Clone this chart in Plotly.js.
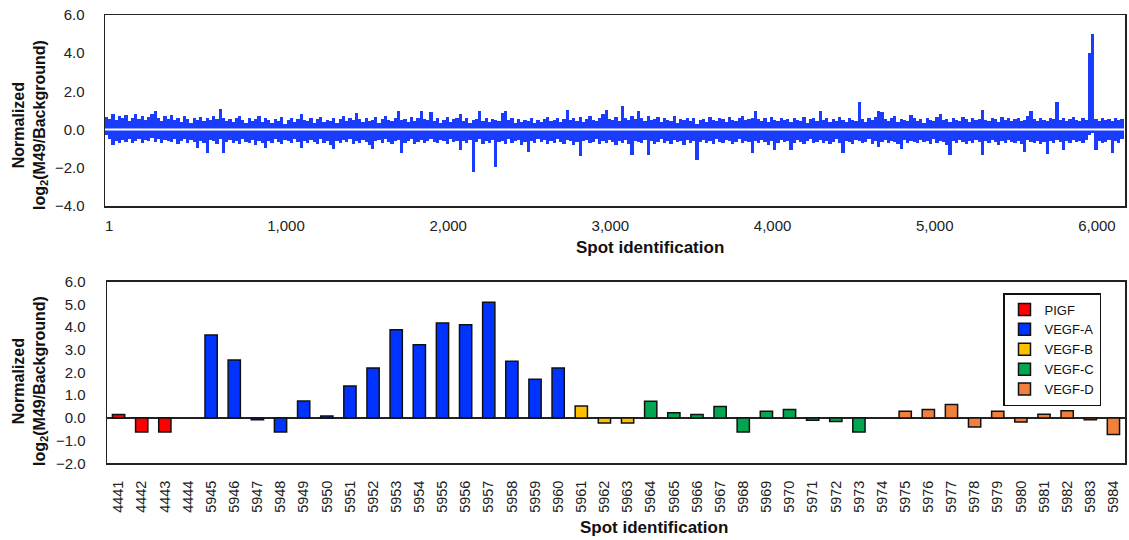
<!DOCTYPE html>
<html>
<head>
<meta charset="utf-8">
<script src="https://cdn.plot.ly/plotly-3.0.1.min.js"></script>
<style>html,body{margin:0;padding:0;background:#fff;}#chart{width:1129px;height:540px;}</style>
</head>
<body>
<div id="chart"></div>
<script>
// ---------- Top panel: all spots, read as binned envelopes (20 spots per bin) ----------
const topBinStart = -116;
const topBinWidth = 20;
const topUp = [
 .65,.55,.8,.5,.7,.6,.75,.45,.6,.8,
 .55,.7,.5,.65,.8,1.0,.6,.45,.7,.55,
 .75,.5,.6,.4,.7,.55,.35,.6,.5,.65,
 .45,.6,.5,.7,.55,1.1,.6,.45,.55,.4,
 .6,.7,.5,.35,.6,.45,.55,.7,.4,.6,
 .5,.35,.55,.45,.65,.3,.5,.6,.4,.55,
 .8,.5,.45,.6,.35,.55,.65,.4,.5,.45,
 .6,.35,.55,.7,.45,.6,.5,.85,.55,.4,
 .6,.45,.5,.65,.35,.55,.7,.5,.45,.6,
 1.0,.5,.55,.4,.65,.45,.6,.95,.55,.5,
 .9,.45,.6,.35,.5,.65,.4,.55,.6,.8,
 .45,.6,.35,.5,.55,.95,.45,.6,.4,.55,
 .5,.45,.85,.95,.5,.6,.35,.55,.4,.5,
 .45,.6,.35,.5,.4,.55,.65,.45,.5,.6,
 .4,.55,1.05,.5,.6,.45,.65,.4,.55,.7,
 .5,.45,.6,.8,1.05,.55,.5,.65,.45,1.25,
 .6,.5,.7,.55,1.0,.6,.45,.7,.5,.55,
 .65,.4,.6,.5,.45,.7,.35,.55,.5,.6,
 .45,.6,.3,.5,.55,.4,.65,.5,.45,.6,
 .55,.4,.65,.5,.45,.6,.7,.5,.55,.6,
 1.0,.55,.45,.6,.4,.65,.5,.45,.6,.5,
 .55,.4,.6,.5,.45,.65,.35,.55,.6,.45,
 .95,.5,.6,.4,.55,.45,.65,.5,.4,.6,
 .5,.45,1.45,.55,.4,.6,.5,.65,.95,.9,
 .55,.45,.6,.7,.4,.55,.5,.45,.75,.6,
 .45,.55,.35,.6,.5,.45,.65,.8,.5,.55,
 .4,.6,.5,.45,.65,.55,.4,.6,.5,.55,
 1.05,.5,.45,.6,.55,.4,.65,.5,.6,.45,
 .55,.6,.45,.5,.7,1.0,.55,.45,.6,.5,
 .45,.6,.55,1.45,.5,.6,.45,.55,.65,.5,
 .45,.6,.5,4.0,5.0,.55,.45,.6,.5,.55,
 .45,.6,.5,.55
];
const topDown = [
 -.3,-.5,-.8,-.6,-.7,-.55,-.65,-.5,-.7,-.6,
 -.5,-.7,-.55,-.6,-.45,-.65,-.5,-.7,-.55,-.6,
 -.65,-.5,-.75,-.6,-.5,-.7,-.55,-.65,-.98,-.6,
 -.7,-1.25,-.55,-.6,-.75,-.5,-1.25,-.65,-.55,-.7,
 -.6,-.75,-.5,-.65,-.7,-.55,-.8,-.6,-.7,-.98,
 -.6,-.7,-.5,-.65,-.75,-.55,-.6,-.7,-.5,-.65,
 -.98,-.6,-.7,-.55,-.65,-.75,-.5,-.7,-.6,-.8,
 -1.0,-.6,-.7,-.55,-.65,-.5,-.75,-.6,-.7,-.55,
 -.65,-.8,-1.0,-.6,-.55,-.7,-.5,-.65,-.75,-.6,
 -.55,-1.25,-.7,-.6,-.5,-.75,-.65,-.55,-.7,-.6,
 -.5,-.65,-.7,-.55,-.6,-.75,-.5,-.65,-.6,-1.05,
 -.6,-.7,-.55,-2.2,-.65,-.5,-.75,-.6,-.7,-.55,
 -1.95,-.65,-.6,-.75,-.5,-.7,-.6,-.55,-.8,-.65,
 -1.15,-.6,-.7,-.5,-.65,-.55,-.75,-.6,-.7,-.5,
 -.65,-.75,-.55,-.6,-.8,-.65,-1.4,-.6,-.55,-.7,
 -.65,-.5,-.75,-.6,-.7,-.55,-.65,-.8,-.6,-.7,
 -.55,-.75,-1.35,-.6,-.65,-.7,-.55,-1.35,-.6,-.75,
 -.65,-.5,-.7,-.6,-.75,-.55,-.65,-.6,-.8,-.55,
 -.7,-.6,-1.6,-.65,-.55,-.7,-.6,-.75,-.5,-.65,
 -.7,-.55,-.6,-.75,-.65,-.5,-.7,-.6,-.65,-1.25,
 -.6,-.7,-.55,-.65,-.8,-.6,-1.05,-.7,-.55,-.65,
 -.6,-1.05,-.7,-.55,-.65,-.75,-.6,-.5,-.7,-.65,
 -.55,-.7,-.6,-.75,-.65,-.5,-.7,-1.2,-.6,-.65,
 -.75,-.55,-.6,-.7,-.65,-.5,-.75,-.6,-.9,-.65,
 -.55,-.7,-.6,-.65,-.75,-1.0,-.55,-.7,-.6,-.65,
 -.7,-.55,-.65,-.6,-.75,-.5,-.7,-.6,-.65,-.8,
 -1.35,-.6,-.7,-.55,-.65,-.75,-.6,-.7,-.55,-.65,
 -1.35,-.6,-.7,-.55,-.65,-.8,-.6,-.7,-.55,-.65,
 -.7,-.6,-.75,-1.15,-.55,-.65,-.7,-.6,-.75,-.65,
 -1.3,-.6,-.7,-.55,-.65,-1.05,-.6,-.7,-.55,-.65,
 -.6,-.7,-.55,-.3,-.2,-1.05,-.6,-.7,-.65,-.55,
 -1.25,-.6,-.7,-.5
];
const topTickLabels = ['1','1,000','2,000','3,000','4,000','5,000','6,000'];
const topTickSpots  = [-91, 1000, 2000, 3000, 4000, 5000, 6000];
const topRange = [-116, 6173];

// ---------- Bottom panel: selected spots by family ----------
const families = ['PIGF','VEGF-A','VEGF-B','VEGF-C','VEGF-D'];
const familyColors = ['#ff0000','#0033ff','#ffc000','#00a651','#f0803c'];
const pigfSpots  = ['4441','4442','4443','4444'];
const pigfValues = [0.15,-0.62,-0.62,null];
const vegfASpots  = ['5945','5946','5947','5948','5949','5950','5951','5952','5953','5954','5955','5956','5957','5958','5959','5960'];
const vegfAValues = [3.65,2.55,-0.08,-0.62,0.75,0.08,1.4,2.2,3.88,3.22,4.18,4.1,5.1,2.5,1.7,2.2];
const vegfBSpots  = ['5961','5962','5963'];
const vegfBValues = [0.52,-0.22,-0.22];
const vegfCSpots  = ['5964','5965','5966','5967','5968','5969','5970','5971','5972','5973'];
const vegfCValues = [0.73,0.23,0.15,0.5,-0.62,0.29,0.37,-0.1,-0.16,-0.62];
const vegfDSpots  = ['5974','5975','5976','5977','5978','5979','5980','5981','5982','5983','5984'];
const vegfDValues = [null,0.29,0.37,0.59,-0.4,0.29,-0.18,0.16,0.31,-0.08,-0.73];

const familySpots = [pigfSpots, vegfASpots, vegfBSpots, vegfCSpots, vegfDSpots];
const familyValues = [pigfValues, vegfAValues, vegfBValues, vegfCValues, vegfDValues];
const allSpots = [].concat(...familySpots);

// ---------- Build traces ----------
const W = 1129, H = 540;
const FONT = 'Liberation Sans, Arial, sans-serif';
const topX = topUp.map((_, k) => topBinStart + topBinWidth * (k + 0.5));
const blue = '#1a3cff';

const traces = [
  {type:'bar', x: topX, y: topUp, width: topBinWidth, marker:{color: blue, line:{width:0}},
   xaxis:'x', yaxis:'y', showlegend:false, hoverinfo:'skip'},
  {type:'bar', x: topX, y: topDown, width: topBinWidth, marker:{color: blue, line:{width:0}},
   xaxis:'x', yaxis:'y', showlegend:false, hoverinfo:'skip'}
];
families.forEach((name, i) => {
  traces.push({
    type:'bar', name: name, x: familySpots[i], y: familyValues[i], width: 0.53,
    marker:{color: familyColors[i], line:{color:'#111', width:1.5}},
    xaxis:'x2', yaxis:'y2'
  });
});

const px = v => v / W, py = v => 1 - v / H;

const axisCommon = {
  showgrid:false, showline:true, linecolor:'#222', linewidth:1.5, mirror:true,
  ticks:'', tickfont:{family: FONT, size:15, color:'#222'}
};

const layout = {
  width: W, height: H,
  margin:{l:0, r:0, t:0, b:0},
  paper_bgcolor:'#fff', plot_bgcolor:'#fff',
  barmode:'relative',
  bargap:0,
  font:{family: FONT, color:'#111'},
  xaxis: Object.assign({}, axisCommon, {
    domain:[px(105), px(1125)], range: topRange, anchor:'y',
    tickmode:'array', tickvals: topTickSpots, ticktext: topTickLabels,
    zeroline:false, ticklabelstandoff: 5
  }),
  yaxis: Object.assign({}, axisCommon, {
    domain:[py(206), py(15)], range:[-4, 6], anchor:'x',
    tickmode:'linear', tick0:-4, dtick:2, tickformat:'.1f', zeroline:false,
    ticklabelstandoff: 16
  }),
  xaxis2: Object.assign({}, axisCommon, {
    domain:[px(107), px(1125)], anchor:'y2', type:'category',
    categoryorder:'array', categoryarray: allSpots, range:[-0.5, allSpots.length - 0.5],
    tickangle:-90, tickfont:{family: FONT, size:14.5, color:'#222'}, ticklabelstandoff: 10
  }),
  yaxis2: Object.assign({}, axisCommon, {
    domain:[py(463.3), py(281.7)], range:[-2, 6], anchor:'x2',
    tickmode:'linear', tick0:-2, dtick:1, tickformat:'.1f',
    zeroline:true, zerolinecolor:'#222', zerolinewidth:1.5,
    ticklabelstandoff: 17
  }),
  legend:{
    x: px(1101), y: py(293), xanchor:'right', yanchor:'top',
    bordercolor:'#111', borderwidth:1.5, bgcolor:'#fff',
    font:{family: FONT, size:13, color:'#111'}, traceorder:'normal',
    tracegroupgap:0
  },
  shapes:[
    {type:'line', xref:'x', yref:'y', x0: topRange[0], x1: topRange[1], y0:0, y1:0,
     line:{color:'#ffffff', width:2}, layer:'above'}
  ],
  annotations:[
    {xref:'paper', yref:'paper', x: px(650), y: py(247), text:'<b>Spot identification</b>',
     showarrow:false, xanchor:'center', yanchor:'middle', font:{family: FONT, size:17, color:'#111'}},
    {xref:'paper', yref:'paper', x: px(654), y: py(527), text:'<b>Spot identification</b>',
     showarrow:false, xanchor:'center', yanchor:'middle', font:{family: FONT, size:17, color:'#111'}},
    {xref:'paper', yref:'paper', x: px(30), y: py(125), textangle:-90,
     text:'<b>Normalized</b><br><b>log<sub>2</sub>(M49/Background)</b>',
     showarrow:false, xanchor:'center', yanchor:'middle', font:{family: FONT, size:16, color:'#111'}},
    {xref:'paper', yref:'paper', x: px(30), y: py(381), textangle:-90,
     text:'<b>Normalized</b><br><b>log<sub>2</sub>(M49/Background)</b>',
     showarrow:false, xanchor:'center', yanchor:'middle', font:{family: FONT, size:16, color:'#111'}}
  ]
};

Plotly.newPlot('chart', traces, layout, {staticPlot:true, displayModeBar:false});
</script>
</body>
</html>
